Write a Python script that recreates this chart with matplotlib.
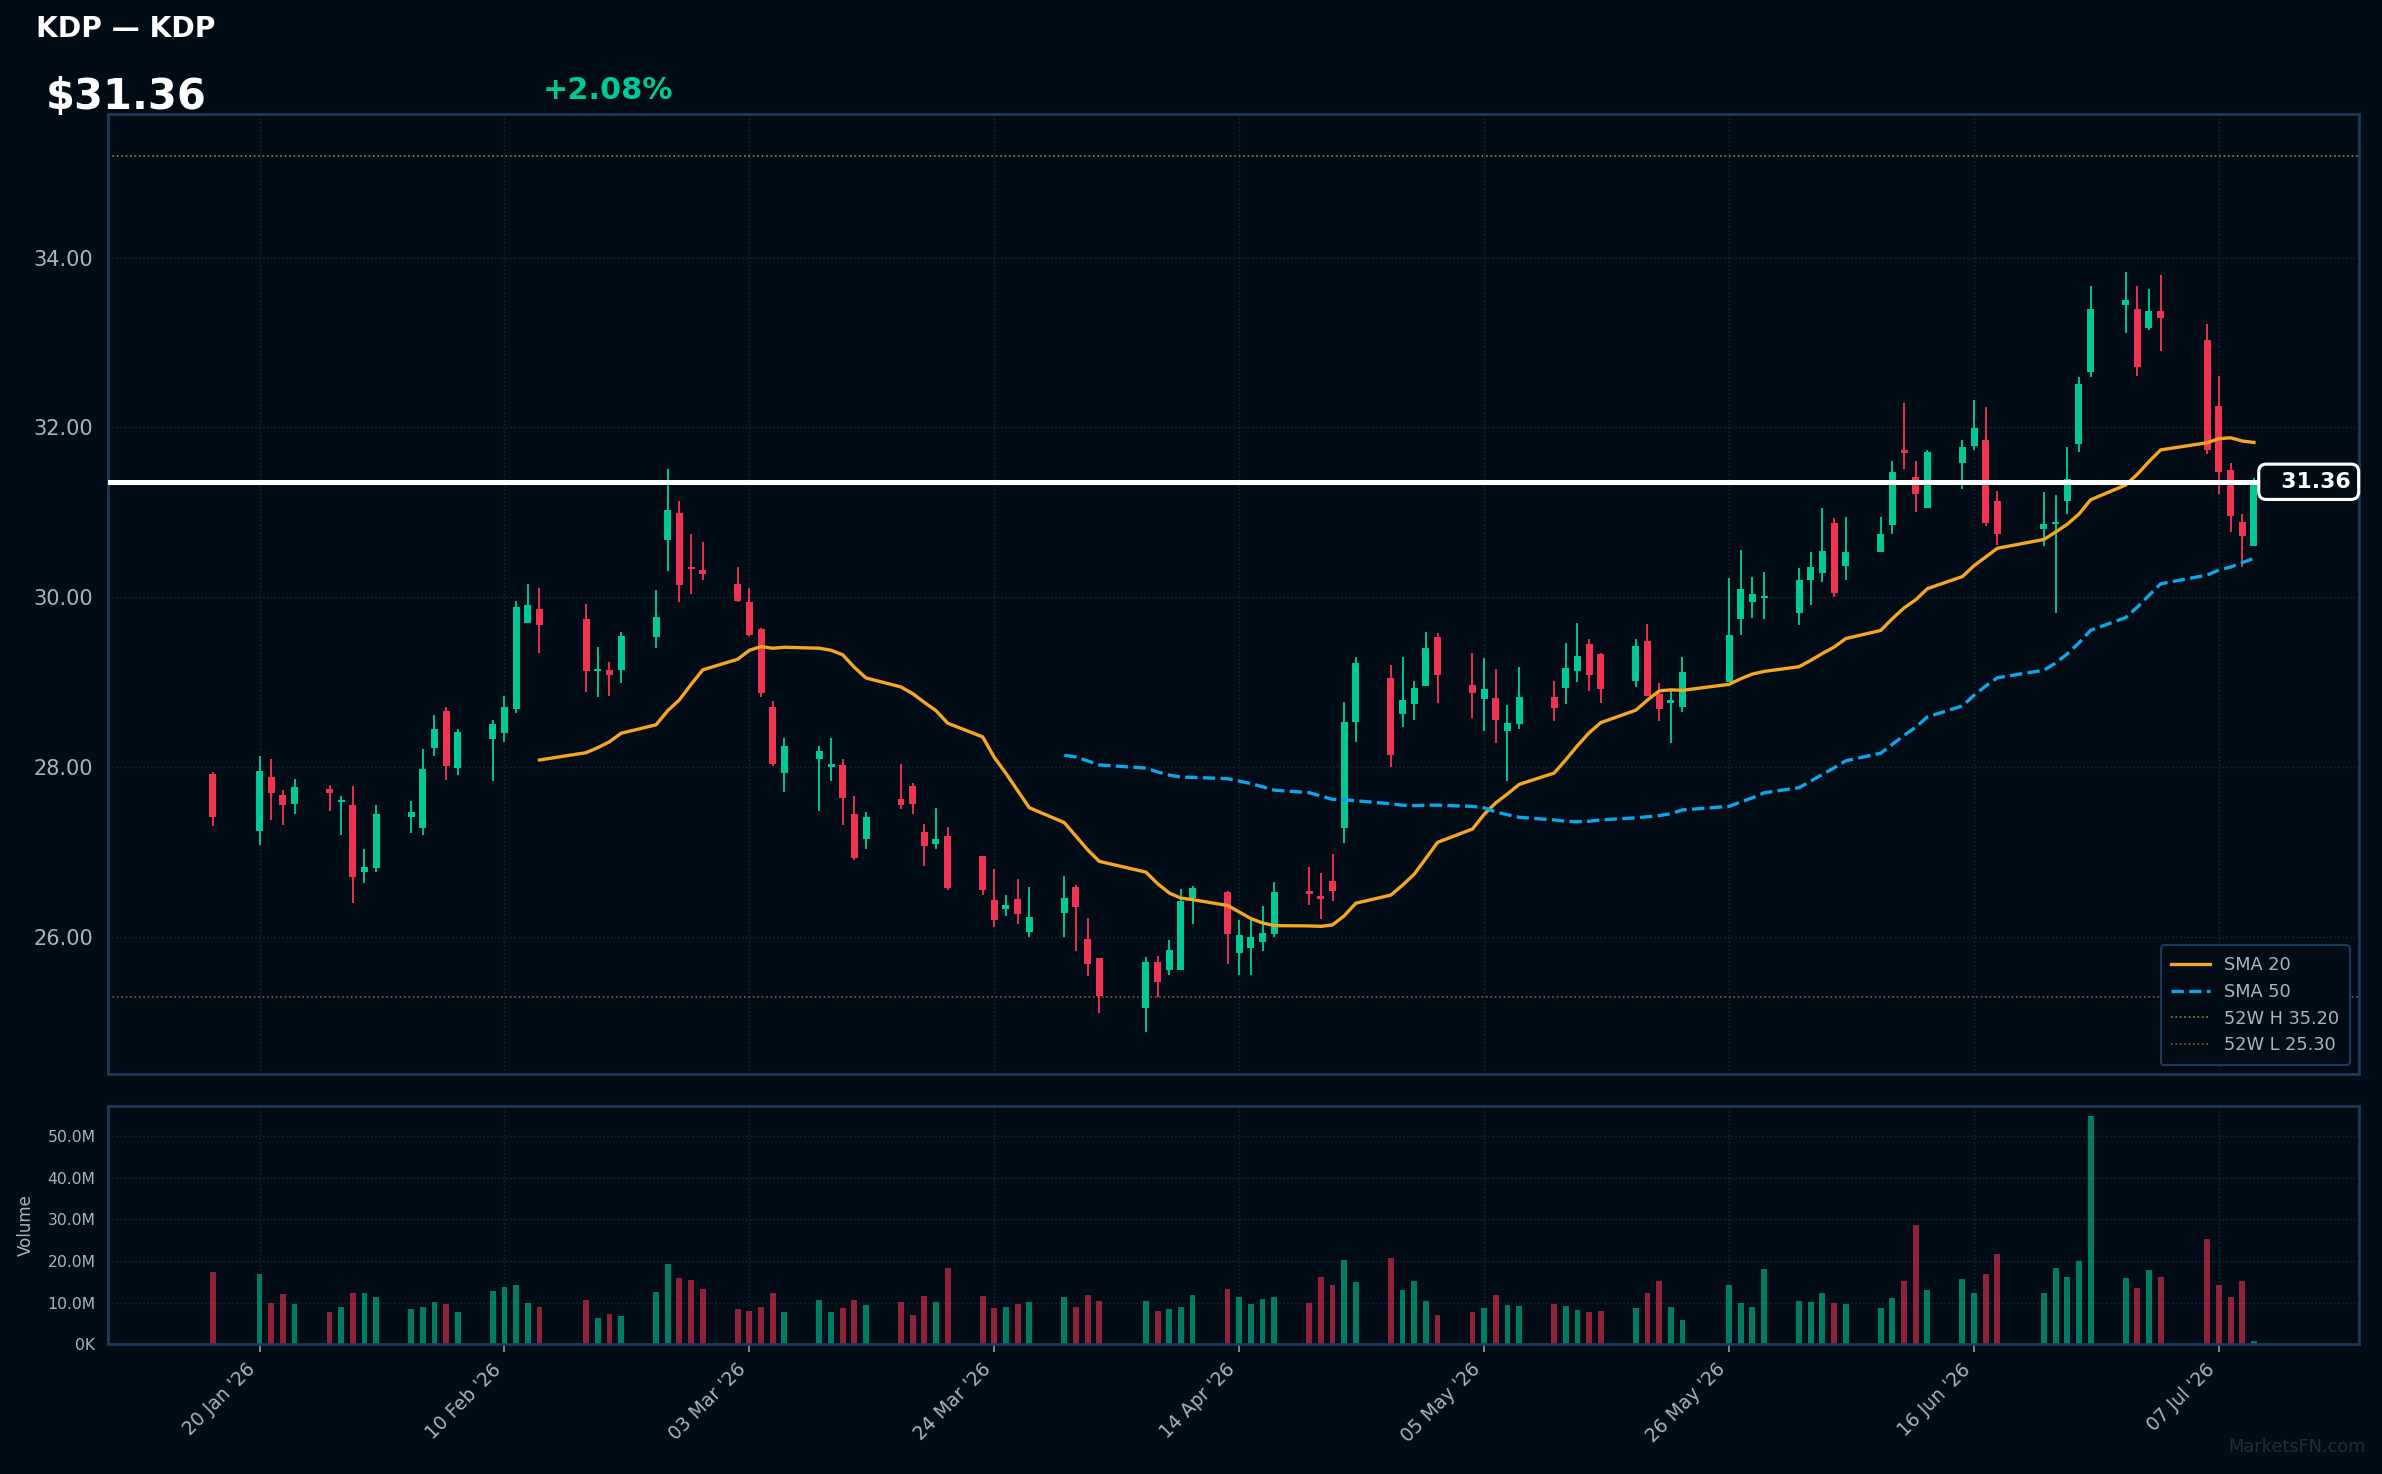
import numpy as np
import pandas as pd
import matplotlib
matplotlib.use("Agg")
import matplotlib.pyplot as plt
import matplotlib.dates as mdates
from matplotlib.ticker import FuncFormatter

# ---------------------------------------------------------
# data
# ---------------------------------------------------------
dates = [
    "2026-01-16", "2026-01-20", "2026-01-21", "2026-01-22", "2026-01-23",
    "2026-01-26", "2026-01-27", "2026-01-28", "2026-01-29", "2026-01-30",
    "2026-02-02", "2026-02-03", "2026-02-04", "2026-02-05", "2026-02-06",
    "2026-02-09", "2026-02-10", "2026-02-11", "2026-02-12", "2026-02-13",
    "2026-02-17", "2026-02-18", "2026-02-19", "2026-02-20",
    "2026-02-23", "2026-02-24", "2026-02-25", "2026-02-26", "2026-02-27",
    "2026-03-02", "2026-03-03", "2026-03-04", "2026-03-05", "2026-03-06",
    "2026-03-09", "2026-03-10", "2026-03-11", "2026-03-12", "2026-03-13",
    "2026-03-16", "2026-03-17", "2026-03-18", "2026-03-19", "2026-03-20",
    "2026-03-23", "2026-03-24", "2026-03-25", "2026-03-26", "2026-03-27",
    "2026-03-30", "2026-03-31", "2026-04-01", "2026-04-02",
    "2026-04-06", "2026-04-07", "2026-04-08", "2026-04-09", "2026-04-10",
    "2026-04-13", "2026-04-14", "2026-04-15", "2026-04-16", "2026-04-17",
    "2026-04-20", "2026-04-21", "2026-04-22", "2026-04-23", "2026-04-24",
    "2026-04-27", "2026-04-28", "2026-04-29", "2026-04-30", "2026-05-01",
    "2026-05-04", "2026-05-05", "2026-05-06", "2026-05-07", "2026-05-08",
    "2026-05-11", "2026-05-12", "2026-05-13", "2026-05-14", "2026-05-15",
    "2026-05-18", "2026-05-19", "2026-05-20", "2026-05-21", "2026-05-22",
    "2026-05-26", "2026-05-27", "2026-05-28", "2026-05-29",
    "2026-06-01", "2026-06-02", "2026-06-03", "2026-06-04", "2026-06-05",
    "2026-06-08", "2026-06-09", "2026-06-10", "2026-06-11", "2026-06-12",
    "2026-06-15", "2026-06-16", "2026-06-17", "2026-06-18",
    "2026-06-22", "2026-06-23", "2026-06-24", "2026-06-25", "2026-06-26",
    "2026-06-29", "2026-06-30", "2026-07-01", "2026-07-02",
    "2026-07-06", "2026-07-07", "2026-07-08", "2026-07-09", "2026-07-10",
]

opens = [
    27.92, 27.25, 27.89, 27.67, 27.57, 27.75, 27.59, 27.55, 26.77, 26.82,
    27.42, 27.29, 28.23, 28.66, 27.99, 28.33, 28.40, 28.69, 29.70, 29.86,
    29.75, 29.13, 29.15, 29.15, 29.53, 30.67, 30.99, 30.34, 30.32,
    30.16, 29.95, 29.63, 28.71, 27.93, 28.10, 28.00, 28.03, 27.45, 27.15,
    27.63, 27.78, 27.24, 27.10, 27.19, 26.95, 26.44, 26.33, 26.45, 26.06,
    26.28, 26.59, 25.98, 25.75, 25.17, 25.71, 25.61, 25.61, 26.46,
    26.53, 25.81, 25.87, 25.94, 26.04, 26.53, 26.46, 26.66, 27.29, 28.53,
    29.05, 28.63, 28.74, 28.96, 29.53, 28.97, 28.80, 28.82, 28.43, 28.51,
    28.83, 28.93, 29.13, 29.45, 29.33, 29.02, 29.49, 28.86, 28.76, 28.71,
    29.00, 29.74, 29.94, 29.99, 29.81, 30.21, 30.29, 30.87, 30.37,
    30.53, 30.85, 31.72, 31.42, 31.05, 31.58, 31.78, 31.85, 31.13,
    30.80, 30.86, 31.13, 31.81, 32.65, 33.44, 33.39, 33.17, 33.37,
    33.03, 32.25, 31.50, 30.89, 30.60,
]
highs = [
    27.95, 28.13, 28.10, 27.73, 27.86, 27.79, 27.66, 27.78, 27.04, 27.55,
    27.60, 28.22, 28.62, 28.71, 28.45, 28.56, 28.84, 29.96, 30.16, 30.11,
    29.92, 29.42, 29.24, 29.59, 30.09, 31.51, 31.13, 30.75, 30.65,
    30.36, 30.11, 29.64, 28.78, 28.35, 28.25, 28.35, 28.10, 27.66, 27.47,
    28.04, 27.82, 27.33, 27.52, 27.30, 26.96, 26.80, 26.50, 26.69, 26.59,
    26.72, 26.61, 26.23, 25.76, 25.77, 25.78, 25.97, 26.57, 26.60,
    26.54, 26.20, 26.20, 26.37, 26.65, 26.83, 26.76, 26.98, 28.77, 29.30,
    29.20, 29.30, 29.02, 29.59, 29.58, 29.35, 29.29, 29.16, 28.73, 29.18,
    29.02, 29.46, 29.70, 29.51, 29.35, 29.51, 29.69, 28.99, 28.90, 29.30,
    30.23, 30.56, 30.24, 30.30, 30.35, 30.53, 31.05, 30.93, 30.95,
    30.95, 31.60, 32.29, 31.60, 31.73, 31.85, 32.32, 32.24, 31.25,
    31.24, 31.20, 31.77, 32.59, 33.66, 33.83, 33.67, 33.63, 33.80,
    33.22, 32.60, 31.58, 30.98, 31.40,
]
lows = [
    27.31, 27.08, 27.38, 27.32, 27.45, 27.48, 27.20, 26.40, 26.64, 26.77,
    27.23, 27.20, 28.13, 27.85, 27.91, 27.84, 28.30, 28.64, 29.70, 29.35,
    28.88, 28.83, 28.84, 28.99, 29.40, 30.31, 29.95, 30.04, 30.21,
    29.94, 29.55, 28.83, 28.02, 27.71, 27.48, 27.84, 27.32, 26.91, 27.04,
    27.51, 27.45, 26.84, 27.04, 26.56, 26.50, 26.12, 26.25, 26.15, 26.00,
    26.00, 25.84, 25.54, 25.11, 24.88, 25.30, 25.56, 25.61, 26.16,
    25.69, 25.56, 25.56, 25.84, 26.00, 26.38, 26.21, 26.43, 27.11, 28.30,
    28.00, 28.47, 28.56, 28.96, 28.76, 28.58, 28.43, 28.28, 27.84, 28.45,
    28.55, 28.74, 29.00, 28.90, 28.76, 28.95, 28.84, 28.54, 28.28, 28.65,
    29.00, 29.56, 29.76, 29.74, 29.67, 29.91, 30.18, 30.00, 30.21,
    30.53, 30.74, 31.51, 31.01, 31.05, 31.28, 31.74, 30.84, 30.62,
    30.60, 29.82, 30.98, 31.71, 32.59, 33.11, 32.61, 33.15, 32.90,
    31.69, 31.22, 30.77, 30.36, 30.60,
]
closes = [
    27.41, 27.96, 27.70, 27.55, 27.77, 27.70, 27.60, 26.71, 26.83, 27.45,
    27.47, 27.98, 28.45, 28.01, 28.42, 28.51, 28.71, 29.89, 29.91, 29.68,
    29.13, 29.14, 29.09, 29.55, 29.77, 31.03, 30.14, 30.33, 30.27,
    29.96, 29.56, 28.87, 28.04, 28.25, 28.19, 28.04, 27.64, 26.93, 27.42,
    27.55, 27.57, 27.07, 27.16, 26.58, 26.55, 26.20, 26.38, 26.27, 26.24,
    26.46, 26.35, 25.69, 25.31, 25.71, 25.47, 25.85, 26.43, 26.58,
    26.04, 26.03, 26.00, 26.05, 26.53, 26.51, 26.45, 26.54, 28.53, 29.23,
    28.15, 28.79, 28.93, 29.40, 29.09, 28.87, 28.92, 28.56, 28.52, 28.83,
    28.70, 29.17, 29.31, 29.09, 28.92, 29.43, 28.84, 28.69, 28.78, 29.12,
    29.56, 30.10, 30.04, 30.02, 30.20, 30.36, 30.55, 30.05, 30.53,
    30.75, 31.47, 31.70, 31.22, 31.71, 31.77, 31.99, 30.88, 30.75,
    30.86, 30.87, 31.39, 32.51, 33.39, 33.50, 32.71, 33.37, 33.29,
    31.74, 31.48, 30.96, 30.72, 31.36,
]
volume_m = [
    17.4, 16.9, 9.9, 12.1, 9.7, 7.8, 9.0, 12.3, 12.3, 11.4,
    8.5, 9.0, 10.2, 9.7, 7.8, 12.8, 13.8, 14.3, 9.9, 9.0,
    10.7, 6.3, 7.3, 6.8, 12.6, 19.3, 15.9, 15.5, 13.3,
    8.5, 8.0, 9.0, 12.3, 7.8, 10.7, 7.8, 8.7, 10.7, 9.5,
    10.2, 7.1, 11.6, 10.2, 18.3, 11.6, 8.7, 9.0, 9.7, 10.2,
    11.4, 9.0, 11.9, 10.4, 10.4, 8.0, 8.5, 9.0, 11.9,
    13.3, 11.4, 9.7, 10.9, 11.4, 9.9, 16.2, 14.3, 20.2, 15.0,
    20.8, 13.1, 15.2, 10.4, 7.1, 7.8, 8.7, 11.9, 9.5, 9.2,
    9.7, 9.2, 8.3, 7.8, 8.0, 8.7, 12.3, 15.2, 9.0, 5.8,
    14.3, 9.9, 9.0, 18.1, 10.4, 10.2, 12.3, 9.9, 9.7,
    8.7, 11.1, 15.2, 28.7, 13.1, 15.7, 12.3, 16.9, 21.7,
    12.3, 18.3, 16.2, 20.0, 54.9, 15.9, 13.5, 17.9, 16.2,
    25.3, 14.3, 11.4, 15.2, 0.8,
]

ticker = "KDP"
last_price = 31.36
pct_change = 2.08
high_52w = 35.20
low_52w = 25.30
tick_dates = ["2026-01-20", "2026-02-10", "2026-03-03", "2026-03-24", "2026-04-14",
              "2026-05-05", "2026-05-26", "2026-06-16", "2026-07-07"]

# ---------------------------------------------------------
# style
# ---------------------------------------------------------
BG = "#020c17"
UP = "#00c896"
DOWN = "#ef3350"
SPINE = "#1e3a5a"
GRID = "#1a2939"
TXT = "#a9b4c2"

df = pd.DataFrame({"open": opens, "high": highs, "low": lows, "close": closes,
                   "vol": np.array(volume_m) * 1e6}, index=pd.to_datetime(dates))
df["sma20"] = df["close"].rolling(20).mean()
df["sma50"] = df["close"].rolling(50).mean()
x = mdates.date2num(df.index.to_pydatetime())
up = df["close"].values >= df["open"].values
cols = np.where(up, UP, DOWN)

fig = plt.figure(figsize=(2382 / 150, 1474 / 150), dpi=150, facecolor=BG)
ax = fig.add_axes([0.0453, 0.2714, 0.9450, 0.6513], facecolor=BG)
axv = fig.add_axes([0.0453, 0.0880, 0.9450, 0.1618], facecolor=BG, sharex=ax)

# candles
body_lo = np.minimum(df["open"].values, df["close"].values)
body_h = np.maximum(np.abs(df["close"].values - df["open"].values), 0.03)
ax.vlines(x, df["low"].values, df["high"].values, colors=cols, linewidth=0.9, zorder=3)
ax.bar(x, body_h, bottom=body_lo, width=0.6, color=cols, linewidth=0, zorder=4)

ax.plot(x, df["sma20"].values, color="#f5a623", lw=1.6, zorder=5, label="SMA 20")
ax.plot(x, df["sma50"].values, color="#0ea5e9", lw=1.6, ls="--", zorder=5, label="SMA 50")
ax.axhline(high_52w, color="#8f8f1f", lw=0.8, ls=":", zorder=2, label=f"52W H {high_52w:.2f}")
ax.axhline(low_52w, color="#a0503c", lw=0.8, ls=":", zorder=2, label=f"52W L {low_52w:.2f}")
ax.axhline(last_price, color="white", lw=2.4, zorder=6)
ax.text(0.9965, last_price, f"  {last_price:.2f}", transform=ax.get_yaxis_transform(),
        ha="right", va="center", color="white", fontsize=10.5, fontweight="bold", zorder=8,
        bbox=dict(boxstyle="round,pad=0.35", fc=BG, ec="white", lw=1.5))

ax.set_xlim(mdates.date2num(pd.Timestamp("2026-01-07")), mdates.date2num(pd.Timestamp("2026-07-19")))
ax.set_ylim(24.39, 35.69)
ax.set_yticks([26, 28, 30, 32, 34])
ax.yaxis.set_major_formatter(FuncFormatter(lambda v, p: f"{v:.2f}"))

leg = ax.legend(loc="lower right", fontsize=8.5, facecolor=BG, edgecolor=SPINE,
                labelcolor=TXT, framealpha=1, borderpad=0.6, handlelength=2.2)
leg.get_frame().set_linewidth(1.0)

# volume
axv.bar(x, df["vol"].values, width=0.5, color=cols, alpha=0.6, linewidth=0)
axv.set_ylim(0, 57.3e6)
axv.set_yticks(np.arange(0, 60e6, 10e6))
axv.yaxis.set_major_formatter(FuncFormatter(
    lambda v, p: f"{v / 1e6:.1f}M" if v >= 1e6 else f"{v / 1e3:.0f}K"))
axv.set_ylabel("Volume", color=TXT, fontsize=8, labelpad=6)

ticks = mdates.date2num(pd.to_datetime(tick_dates).to_pydatetime())
axv.set_xticks(ticks)
axv.xaxis.set_major_formatter(mdates.DateFormatter("%d %b '%y"))
plt.setp(axv.get_xticklabels(), rotation=45, ha="right")

for a in (ax, axv):
    for s in a.spines.values():
        s.set_color(SPINE)
        s.set_linewidth(1.3)
    a.grid(True, color=GRID, ls=":", lw=0.7)
    a.set_axisbelow(True)
ax.tick_params(axis="y", length=0, pad=7, colors=TXT, labelsize=10)
ax.tick_params(axis="x", length=0, labelbottom=False)
axv.tick_params(axis="y", length=0, pad=6, colors=TXT, labelsize=7.5)
axv.tick_params(axis="x", length=4, color="#8a9bb0", colors=TXT, labelsize=9)

# header
fig.text(0.0151, 0.9898, f"{ticker} \u2014 {ticker}", color="white", fontsize=13.5,
         fontweight="bold", ha="left", va="top")
fig.text(0.0191, 0.9484, f"${last_price:.2f}", color="white", fontsize=20,
         fontweight="bold", ha="left", va="top")
fig.text(0.2277, 0.9484, f"{pct_change:+.2f}%", color=UP, fontsize=14.5,
         fontweight="bold", ha="left", va="top")
fig.text(0.993, 0.012, "MarketsFN.com", color="#1f2e3f", fontsize=8.5, ha="right", va="bottom")

fig.savefig("out.png", dpi=150, facecolor=BG)
